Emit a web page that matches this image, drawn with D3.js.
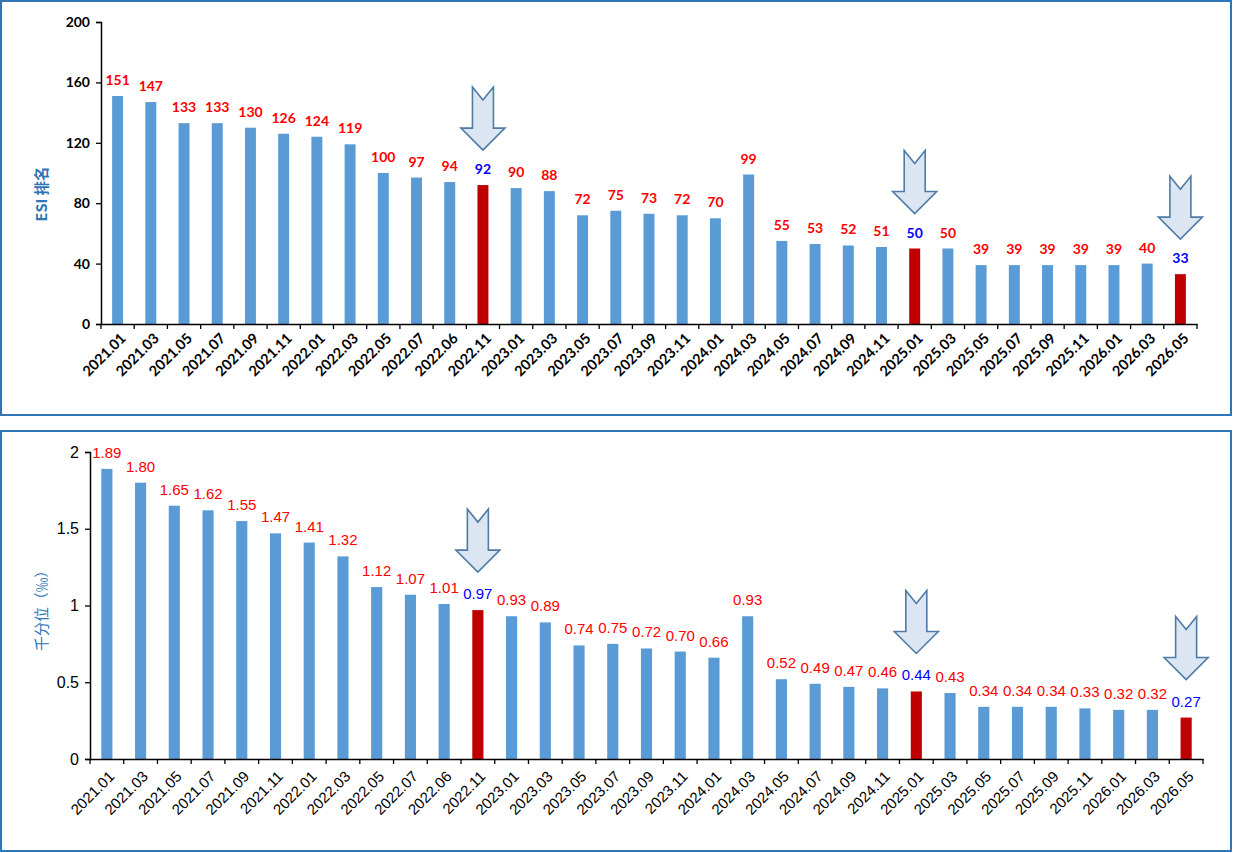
<!DOCTYPE html>
<html>
<head>
<meta charset="utf-8">
<script src="https://cdn.jsdelivr.net/npm/d3@7"></script>
<style>
  body { margin: 0; background: #fff; }
  svg { display: block; }
</style>
</head>
<body>
<svg id="chart" width="1234" height="853"></svg>
<script>
const periods = ["2021.01","2021.03","2021.05","2021.07","2021.09","2021.11","2022.01","2022.03","2022.05","2022.07","2022.06","2022.11","2023.01","2023.03","2023.05","2023.07","2023.09","2023.11","2024.01","2024.03","2024.05","2024.07","2024.09","2024.11","2025.01","2025.03","2025.05","2025.07","2025.09","2025.11","2026.01","2026.03","2026.05"];
const rankValues = [151,147,133,133,130,126,124,119,100,97,94,92,90,88,72,75,73,72,70,99,55,53,52,51,50,50,39,39,39,39,39,40,33];
const permilleValues = [1.89,1.80,1.65,1.62,1.55,1.47,1.41,1.32,1.12,1.07,1.01,0.97,0.93,0.89,0.74,0.75,0.72,0.70,0.66,0.93,0.52,0.49,0.47,0.46,0.44,0.43,0.34,0.34,0.34,0.33,0.32,0.32,0.27];
const highlighted = ["2022.11","2025.01","2026.05"];
const rankTicks = [0,40,80,120,160,200];
const permilleTicks = [0,0.5,1,1.5,2];

const svg = d3.select("#chart");
const BLUE = "#5b9bd5", RED = "#c00000", FRAME = "#2e75b6";

// one panel = frame + bar chart with labels and arrows
function drawPanel(opt) {
  const { box, left, top, right, bottom, values, ticks, maxV, fmt, title, bold, arrowGap } = opt;

  svg.append("rect")
    .attr("x", box.x).attr("y", box.y)
    .attr("width", box.w).attr("height", box.h)
    .attr("fill", "none").attr("stroke", FRAME).attr("stroke-width", 2);

  const x = d3.scaleBand().domain(periods).range([left, right])
    .paddingInner(0.67).paddingOuter(0.335);
  const y = d3.scaleLinear().domain([0, maxV]).range([bottom, top]);
  const font = bold ? "Lato, 'Liberation Sans', sans-serif" : "'Liberation Sans', Arial, sans-serif";
  const weight = bold ? "bold" : "normal";

  const g = svg.append("g");

  g.selectAll("rect.bar")
    .data(periods)
    .join("rect")
    .attr("class", "bar")
    .attr("x", d => x(d))
    .attr("y", (d, i) => y(values[i]))
    .attr("width", x.bandwidth())
    .attr("height", (d, i) => bottom - y(values[i]))
    .attr("fill", d => highlighted.includes(d) ? RED : BLUE);

  g.selectAll("text.val")
    .data(periods)
    .join("text")
    .attr("class", "val")
    .attr("x", d => x(d) + x.bandwidth() / 2)
    .attr("y", (d, i) => y(values[i]) - 11)
    .attr("text-anchor", "middle")
    .style("font-family", font)
    .style("font-weight", weight)
    .style("font-size", (bold ? 14 : 15) + "px")
    .attr("fill", d => highlighted.includes(d) ? "#0000ff" : "#ff0000")
    .text((d, i) => fmt(values[i]));

  // y axis
  const ya = g.append("g")
    .attr("transform", `translate(${left},0)`)
    .call(d3.axisLeft(y).tickValues(ticks).tickSize(5).tickFormat(d => d));
  ya.select(".domain").attr("stroke", "#000").attr("stroke-width", 1.5);
  ya.selectAll(".tick line").attr("stroke", "#000").attr("stroke-width", 1.3);
  ya.selectAll("text")
    .style("font-family", font).style("font-weight", weight)
    .style("font-size", (bold ? 14 : 16) + "px").attr("fill", "#000").attr("dx", -3);

  // x axis, ticks at band boundaries
  const xa = g.append("g")
    .attr("transform", `translate(0,${bottom})`)
    .call(d3.axisBottom(x).tickSize(0));
  xa.select(".domain").attr("stroke", "#000").attr("stroke-width", 1.5);
  xa.selectAll("text")
    .style("font-family", font).style("font-weight", weight)
    .style("font-size", (bold ? 14.5 : 15) + "px").attr("fill", "#000")
    .attr("text-anchor", "end")
    .attr("transform", `translate(${opt.labelDx},${opt.labelDy}) rotate(-45)`)
    .attr("y", 0).attr("dy", "0.7em").attr("dx", 0);
  const step = x.step();
  g.selectAll("line.xt")
    .data(d3.range(periods.length + 1))
    .join("line")
    .attr("class", "xt")
    .attr("x1", i => left + i * step).attr("x2", i => left + i * step)
    .attr("y1", bottom).attr("y2", bottom + 5)
    .attr("stroke", "#000").attr("stroke-width", 1.3);

  // axis title, font scaled so the text spans the measured length
  const tt = g.append("text")
    .attr("transform", `translate(${opt.titleX},${opt.titleY}) rotate(-90)`)
    .attr("text-anchor", "middle")
    .attr("dy", "0.35em")
    .style("font-family", "'Noto Sans CJK SC', sans-serif")
    .style("font-weight", weight)
    .style("font-size", "15px")
    .attr("fill", "#2e75b6")
    .text(title);
  const len = tt.node().getComputedTextLength();
  if (len > 0) tt.style("font-size", Math.min(20, 15 * opt.titleLen / len) + "px");

  // arrows over the highlighted bars: notched top, narrow shaft, wide head
  highlighted.forEach(p => {
    const i = periods.indexOf(p);
    const cx = x(p) + x.bandwidth() / 2;
    const tip = y(values[i]) - arrowGap;
    const h = 63, hw = 22, sw = 10.5, notch = 13, head = 22;
    const t = tip - h;
    const path = [
      [cx - sw, t], [cx, t + notch], [cx + sw, t],
      [cx + sw, t + h - head], [cx + hw, t + h - head], [cx, tip],
      [cx - hw, t + h - head], [cx - sw, t + h - head]
    ];
    g.append("path")
      .attr("d", "M" + path.map(q => q.join(",")).join("L") + "Z")
      .attr("fill", "#dce6f2")
      .attr("stroke", "#4f7ba6")
      .attr("stroke-width", 1.6)
      .attr("stroke-linejoin", "miter");
  });
}

drawPanel({
  box: { x: 1, y: 1, w: 1230, h: 414 },
  left: 101, right: 1197, top: 22, bottom: 324,
  values: rankValues, ticks: rankTicks, maxV: 200,
  fmt: d => d, title: "ESI 排名", bold: true, titleX: 42, titleY: 194, titleLen: 55,
  arrowGap: 35, labelDx: 2, labelDy: 8
});

drawPanel({
  box: { x: 1, y: 431, w: 1230, h: 420 },
  left: 90, right: 1203, top: 452, bottom: 759,
  values: permilleValues, ticks: permilleTicks, maxV: 2,
  fmt: d => d.toFixed(2), title: "千分位（‰）", bold: false, titleX: 42, titleY: 607, titleLen: 88,
  arrowGap: 38, labelDx: 1, labelDy: 11
});
</script>
</body>
</html>
